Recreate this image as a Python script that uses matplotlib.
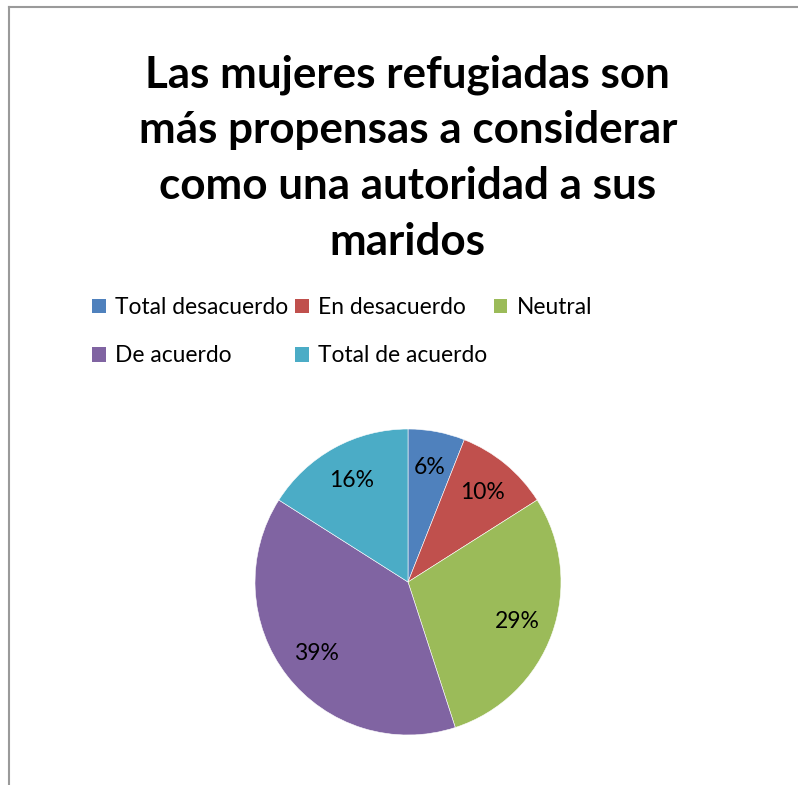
import matplotlib.pyplot as plt
from matplotlib.patches import Patch

# Data.
categories = ["Total desacuerdo", "En desacuerdo", "Neutral", "De acuerdo", "Total de acuerdo"]
shares = [6, 10, 29, 39, 16]
colors = ["#4F81BD", "#C0504D", "#9BBB59", "#8064A2", "#4BACC6"]
title = "Las mujeres refugiadas son\nmás propensas a considerar\ncomo una autoridad a sus\nmaridos"

plt.rcParams['font.family'] = ['Lato', 'DejaVu Sans']

fig = plt.figure(figsize=(7.98, 7.85), dpi=100)

# Frame lines on the top and left, as in the cropped screenshot.
fig.add_artist(plt.Line2D([9 / 798, 9 / 798], [0, 1 - 7 / 785], color="#9a9a9a", lw=1.5))
fig.add_artist(plt.Line2D([9 / 798, 1], [1 - 7 / 785, 1 - 7 / 785], color="#9a9a9a", lw=1.5))

fig.text(0.511, 1 - 158 / 785, title, ha="center", va="center",
         fontsize=31.7, fontweight="bold", linespacing=1.47)

# Pie, centred at about (408, 582) px with a 153 px radius.
ax = fig.add_axes([255 / 798, 50 / 785, 306 / 798, 306 / 785])
wedges, _, autotexts = ax.pie(shares, colors=colors, startangle=90, counterclock=False,
                              autopct="%1.0f%%", pctdistance=0.76, radius=1,
                              wedgeprops=dict(edgecolor="white", linewidth=0.4),
                              textprops=dict(fontsize=16.5, color="black"))
ax.set_xlim(-1, 1)
ax.set_ylim(-1, 1)
ax.set_aspect("equal")
ax.axis("off")

# Legend laid out row-wise: 3 items on the first row, 2 on the second.
handles = [Patch(facecolor=c, label=l) for c, l in zip(colors, categories)]
order = [0, 3, 1, 4, 2]
fig.legend([handles[i] for i in order], [categories[i] for i in order],
           ncol=3, loc="upper left", bbox_to_anchor=(92 / 798, 1 - 297 / 785),
           frameon=False, fontsize=16.4, handlelength=0.6, handleheight=0.6,
           handletextpad=0.4, columnspacing=0.3, labelspacing=1.2,
           borderpad=0, borderaxespad=0)

fig.savefig("out.png", dpi=100)
